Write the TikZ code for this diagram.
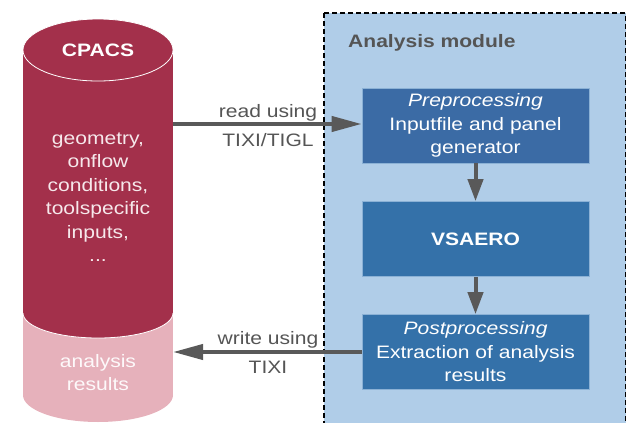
\documentclass[tikz,border=0pt]{standalone}
\usepackage{fontspec}
\setmainfont{Liberation Sans}[FakeStretch=1.17]
\usetikzlibrary{arrows.meta}
\definecolor{dkred}{HTML}{A3304B}
\definecolor{pinkc}{HTML}{E6B1BB}
\definecolor{lblue}{HTML}{B0CDE8}
\definecolor{boxA}{HTML}{3B6BA5}
\definecolor{boxB}{HTML}{3471A9}
\definecolor{arrowc}{HTML}{595959}
\definecolor{labelc}{HTML}{555555}
\definecolor{cyltext}{HTML}{F6E8EB}
\tikzset{
  txt/.style={font=\fontsize{18}{23.5}\selectfont, align=center, inner sep=0pt},
  cylline/.style={txt, anchor=base, text=cyltext},
  procbox/.style={txt, text=white, minimum width=227pt, minimum height=75pt, draw=lblue!70!boxB, line width=0.6pt},
  conn/.style={draw=arrowc, line width=4pt},
  bigtip/.style={-{Triangle[length=30pt,width=15pt]}},
  smalltip/.style={-{Triangle[length=22pt,width=15pt]}},
  lbl/.style={txt, text=labelc},
}
\begin{document}
\begin{tikzpicture}[x=1pt,y=-1pt]
\useasboundingbox (0,0) rectangle (627,423);
% analysis module region
\draw[fill=lblue, line width=1.1pt, dash pattern=on 5pt off 3pt] (324,13) rectangle (625.5,430);
\node[txt, font=\fontsize{18}{23.5}\selectfont\bfseries, text=labelc, anchor=west] (modtitle) at (348,43) {Analysis module};
% cylinder
\fill[pinkc] (23,313) rectangle (173,395);
\fill[pinkc] (98,395) ellipse (75 and 27);
\fill[dkred] (23,50) rectangle (173,313);
\fill[dkred] (98,313) ellipse (75 and 25);
\draw[white, line width=0.8pt] (23,313) arc (180:0:75 and 25);
\fill[dkred] (98,50) ellipse (75 and 31);
\draw[white, line width=0.8pt] (98,50) ellipse (75 and 31);
\node[txt, font=\fontsize{18}{23.5}\selectfont\bfseries, text=white] (cpacs) at (98,50) {CPACS};
\node[cylline] (cpa) at (98,144) {geometry,};
\node[cylline] (cpb) at (98,167.5) {onflow};
\node[cylline] (cpc) at (98,191) {conditions,};
\node[cylline] (cpd) at (98,214.5) {toolspecific};
\node[cylline] (cpe) at (98,238) {inputs,};
\node[cylline] (cpf) at (98,261.5) {...};
\node[cylline, text=white!92!pinkc] (cpg) at (98,367) {analysis};
\node[cylline, text=white!92!pinkc] (cph) at (98,390) {results};
\coordinate (cylR1) at (173,124);
\coordinate (cylR2) at (173,352);
% process boxes
\node[procbox, fill=boxA] (pre) at (475.5,125.5) {\itshape Preprocessing\\Inputfile and panel\\generator};
\node[procbox, fill=boxB, font=\fontsize{18}{23.5}\selectfont\bfseries] (vs) at (475.5,239) {VSAERO};
\node[procbox, fill=boxB] (post) at (475.5,352) {\itshape Postprocessing\\Extraction of analysis\\results};
% connectors
\draw[conn, bigtip] (cylR1) -- (cylR1 -| pre.west);
\draw[conn, bigtip] (cylR2 -| post.west) -- (cylR2);
\draw[conn, smalltip] (pre.south) -- (vs.north);
\draw[conn, smalltip] (vs.south) -- (post.north);
% labels
\node[lbl] (rd1) at (268,113) {read using};
\node[lbl] (rd2) at (268,140) {TIXI/TIGL};
\node[lbl] (wr1) at (268,340) {write using};
\node[lbl] (wr2) at (268,367) {TIXI};
\end{tikzpicture}
\end{document}
